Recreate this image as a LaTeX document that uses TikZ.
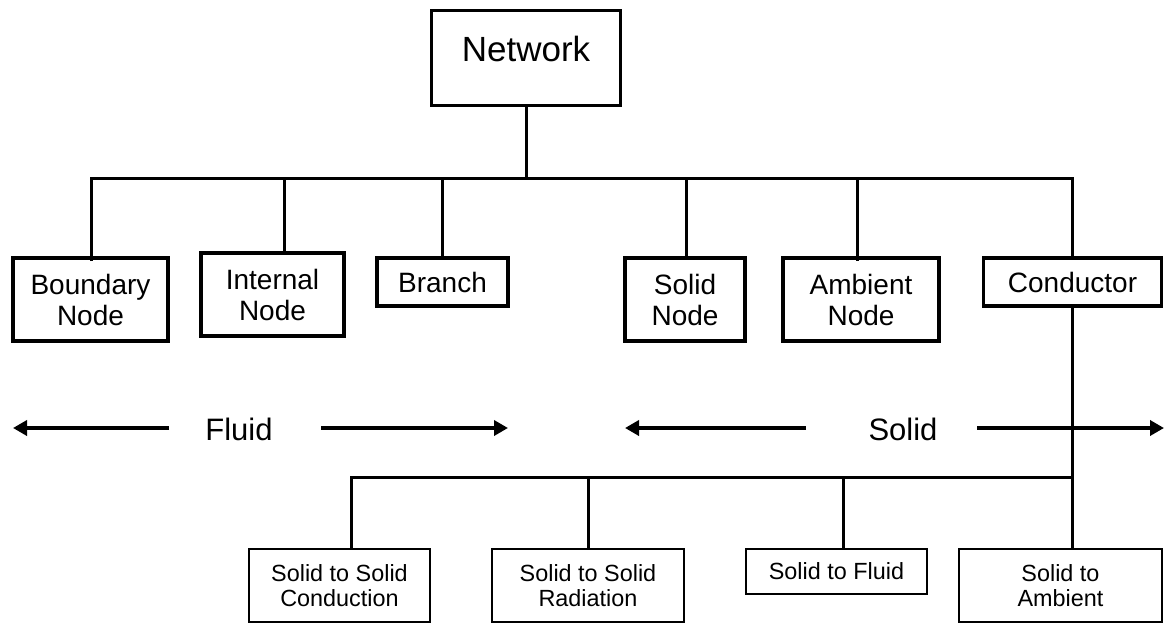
\documentclass[tikz,border=0pt]{standalone}
\usepackage{fontspec}
\setmainfont{Liberation Sans}
\usetikzlibrary{arrows.meta}

\begin{document}
\begin{tikzpicture}[x=1pt,y=-1pt,
  topbox/.style={draw, line width=3.8pt, inner sep=0pt, align=center,
    font=\fontsize{28}{31}\selectfont},
  lowbox/.style={draw, line width=2.2pt, inner sep=0pt, align=center,
    font=\fontsize{23.4}{25.5}\selectfont},
  wire/.style={line width=3pt},
  span/.style={line width=3.5pt, -{Triangle[length=14pt,width=15pt]}},
  tag/.style={font=\fontsize{31}{36}\selectfont, inner sep=0pt}
]
\useasboundingbox (0,0) rectangle (1165,624);

% root
\node[topbox, minimum width=189pt, minimum height=95pt,
      text height=51pt, text depth=44pt,
      font=\fontsize{35}{40}\selectfont] (net) at (526,58) {Network};

% first level
\node[topbox, minimum width=155pt, minimum height=83pt] (bnd) at (90.5,299.5) {Boundary\\Node};
\node[topbox, minimum width=143pt, minimum height=83pt] (int) at (272.5,294.5) {Internal\\Node};
\node[topbox, minimum width=131pt, minimum height=48pt] (br)  at (442.5,282) {Branch};
\node[topbox, minimum width=120pt, minimum height=83pt] (sn)  at (685,299.5) {Solid\\Node};
\node[topbox, minimum width=156pt, minimum height=83pt] (amb) at (861,299.5) {Ambient\\Node};
\node[topbox, minimum width=178pt, minimum height=48pt] (con) at (1072.5,282) {Conductor};

% conductor kinds
\node[lowbox, minimum width=181pt, minimum height=73pt] (ssc) at (339.5,585.5) {Solid to Solid\\Conduction};
\node[lowbox, minimum width=192pt, minimum height=73pt] (ssr) at (588,585.5) {Solid to Solid\\Radiation};
\node[lowbox, minimum width=181pt, minimum height=45pt] (sf)  at (836.5,571.5) {Solid to Fluid};
\node[lowbox, minimum width=203pt, minimum height=73pt] (sa)  at (1060.5,585.5) {Solid to\\Ambient};

% upper tree
\coordinate (d1) at (91,178);
\coordinate (d2) at (284,178);
\coordinate (d3) at (442.5,178);
\coordinate (d4) at (686,178);
\coordinate (d5) at (857,178);
\coordinate (d6) at (1072.5,178);
\draw[wire] (net.south) -- (net.south |- d1);
\draw[wire] ([yshift=-5pt]d1 |- bnd.north) -- (d1) -- (d6) -- ([yshift=-3pt]d6 |- con.north);
\draw[wire] (d2) -- (d2 |- int.north);
\draw[wire] (d3) -- (d3 |- br.north);
\draw[wire] (d4) -- (d4 |- sn.north);
\draw[wire] (d5) -- ([yshift=-5pt]d5 |- amb.north);

% lower tree
\coordinate (l1) at (351,477);
\coordinate (l2) at (588,477);
\coordinate (l3) at (843,477);
\coordinate (l4) at (1072.5,477);
\draw[wire] (l1 |- ssc.north) -- (l1) -- (l4);
\draw[wire] (con.south) -- (con.south |- sa.north);
\draw[wire] (l2) -- (l2 |- ssr.north);
\draw[wire] (l3) -- (l3 |- sf.north);

% domain arrows
\node[tag] (fluid) at (239,429) {Fluid};
\node[tag] (solid) at (903,429) {Solid};
\coordinate (fa) at (169,428);
\coordinate (fb) at (13,428);
\coordinate (fc) at (321,428);
\coordinate (fd) at (508,428);
\coordinate (sa1) at (806,428);
\coordinate (sb1) at (625,428);
\coordinate (sc1) at (977,428);
\coordinate (sd1) at (1164,428);
\draw[span] (fa) -- (fb);
\draw[span] (fc) -- (fd);
\draw[span] (sa1) -- (sb1);
\draw[span] (sc1) -- (sd1);
\end{tikzpicture}
\end{document}
